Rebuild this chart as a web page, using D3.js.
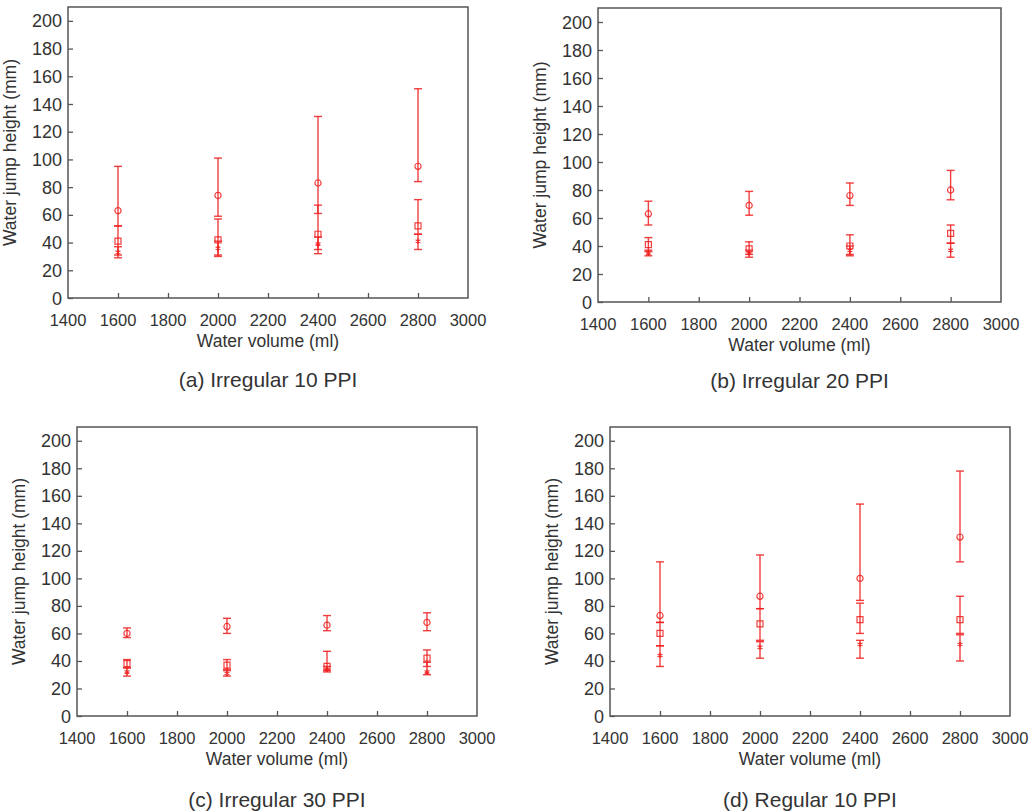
<!DOCTYPE html>
<html>
<head>
<meta charset="utf-8">
<script src="https://cdn.jsdelivr.net/npm/d3@7"></script>
<style>
  body { margin: 0; background: #fff; }
  text { font-family: "Liberation Sans", Arial, sans-serif; fill: #333; }
</style>
</head>
<body>
<div id="chart-area"></div>
<script>
// water volume (ml) for every group
const volumes = [1600, 2000, 2400, 2800];
const xTicks = [1400, 1600, 1800, 2000, 2200, 2400, 2600, 2800, 3000];
const yTicks = [0, 20, 40, 60, 80, 100, 120, 140, 160, 180, 200];

// (a) Irregular 10 PPI
const aCircle = [63, 74, 83, 95], aCircleLow = [52, 59, 61, 84], aCircleHigh = [95, 101, 131, 151];
const aSquare = [41, 42, 46, 52], aSquareLow = [31, 31, 35, 46], aSquareHigh = [52, 57, 67, 71];
const aStar = [33, 36, 39, 41], aStarLow = [29, 30, 32, 35], aStarHigh = [37, 41, 44, 46];

// (b) Irregular 20 PPI
const bCircle = [63, 69, 76, 80], bCircleLow = [55, 62, 69, 73], bCircleHigh = [72, 79, 85, 94];
const bSquare = [41, 38, 40, 49], bSquareLow = [36, 34, 34, 42], bSquareHigh = [46, 43, 48, 55];
const bStar = [35, 35, 37, 37], bStarLow = [33, 32, 33, 32], bStarHigh = [37, 37, 40, 42];

// (c) Irregular 30 PPI
const cCircle = [60, 65, 66, 68], cCircleLow = [57, 60, 62, 62], cCircleHigh = [64, 71, 73, 75];
const cSquare = [38, 37, 36, 42], cSquareLow = [35, 33, 33, 36], cSquareHigh = [41, 41, 47, 48];
const cStar = [32, 31, 34, 32], cStarLow = [29, 29, 32, 30], cStarHigh = [35, 34, 36, 39];

// (d) Regular 10 PPI
const dCircle = [73, 87, 100, 130], dCircleLow = [68, 78, 84, 112], dCircleHigh = [112, 117, 154, 178];
const dSquare = [60, 67, 70, 70], dSquareLow = [51, 55, 60, 60], dSquareHigh = [68, 78, 82, 87];
const dStar = [44, 50, 52, 52], dStarLow = [36, 42, 42, 40], dStarHigh = [51, 54, 55, 59];

const captions = ['(a) Irregular 10 PPI', '(b) Irregular 20 PPI', '(c) Irregular 30 PPI', '(d) Regular 10 PPI'];

const series = (mean, low, high, shape) => volumes.map((v, i) => ({ v, mean: mean[i], low: low[i], high: high[i], shape }));

const panels = [
  { left: 68, top: 7, right: 468, bottom: 298, caption: captions[0], capY: 380,
    data: [series(aCircle, aCircleLow, aCircleHigh, 'circle'), series(aSquare, aSquareLow, aSquareHigh, 'square'), series(aStar, aStarLow, aStarHigh, 'star')] },
  { left: 598, top: 8, right: 1001, bottom: 302, caption: captions[1], capY: 381,
    data: [series(bCircle, bCircleLow, bCircleHigh, 'circle'), series(bSquare, bSquareLow, bSquareHigh, 'square'), series(bStar, bStarLow, bStarHigh, 'star')] },
  { left: 77, top: 427, right: 477, bottom: 716, caption: captions[2], capY: 800,
    data: [series(cCircle, cCircleLow, cCircleHigh, 'circle'), series(cSquare, cSquareLow, cSquareHigh, 'square'), series(cStar, cStarLow, cStarHigh, 'star')] },
  { left: 610, top: 427, right: 1010, bottom: 716, caption: captions[3], capY: 800,
    data: [series(dCircle, dCircleLow, dCircleHigh, 'circle'), series(dSquare, dSquareLow, dSquareHigh, 'square'), series(dStar, dStarLow, dStarHigh, 'star')] }
];

const red = '#f01e1e';
const axisColor = '#555';

const svg = d3.select('#chart-area').append('svg')
  .attr('width', 1035)
  .attr('height', 812);

const symbols = {
  circle: d3.symbol(d3.symbolCircle, 30),
  square: d3.symbol(d3.symbolSquare, 36),
  star: d3.symbol(d3.symbolAsterisk, 22)
};

panels.forEach(p => {
  const x = d3.scaleLinear().domain([1400, 3000]).range([p.left, p.right]);
  const y = d3.scaleLinear().domain([0, 210]).range([p.bottom, p.top]);
  const g = svg.append('g');

  // ticks pointing into the plot
  g.append('g')
    .attr('transform', `translate(0, ${p.bottom})`)
    .call(d3.axisTop(x).tickValues(xTicks.slice(1, -1)).tickSize(5).tickFormat(''))
    .call(a => a.select('.domain').remove())
    .selectAll('line').attr('stroke', axisColor).attr('stroke-width', 1.3);

  g.append('g')
    .attr('transform', `translate(${p.left}, 0)`)
    .call(d3.axisRight(y).tickValues(yTicks).tickSize(5).tickFormat(''))
    .call(a => a.select('.domain').remove())
    .selectAll('line').attr('stroke', axisColor).attr('stroke-width', 1.3);

  // tick labels
  g.selectAll('.xl').data(xTicks).enter().append('text')
    .attr('x', d => x(d))
    .attr('y', p.bottom + 28)
    .attr('text-anchor', 'middle')
    .style('font-size', '16.5px')
    .text(d => d);

  g.selectAll('.yl').data(yTicks).enter().append('text')
    .attr('x', p.left - 6)
    .attr('y', d => y(d) + 6.5)
    .attr('text-anchor', 'end')
    .style('font-size', '18px')
    .text(d => d);

  // frame
  g.append('rect')
    .attr('x', p.left).attr('y', p.top)
    .attr('width', p.right - p.left).attr('height', p.bottom - p.top)
    .attr('fill', 'none').attr('stroke', axisColor).attr('stroke-width', 1.5);

  // axis titles
  g.append('text')
    .attr('x', (p.left + p.right) / 2)
    .attr('y', p.bottom + 49)
    .attr('text-anchor', 'middle')
    .style('font-size', '17.5px')
    .text('Water volume (ml)');

  g.append('text')
    .attr('transform', `translate(${p.left - 52}, ${(p.top + p.bottom) / 2}) rotate(-90)`)
    .attr('text-anchor', 'middle')
    .style('font-size', '17.5px')
    .text('Water jump height (mm)');

  g.append('text')
    .attr('x', (p.left + p.right) / 2)
    .attr('y', p.capY + 7)
    .attr('text-anchor', 'middle')
    .style('font-size', '21px')
    .text(p.caption);

  // error bars and markers
  p.data.forEach(s => {
    const sg = g.append('g').attr('stroke', red).attr('stroke-opacity', 0.85).attr('fill', 'none').attr('stroke-width', 1.4);
    sg.selectAll('.bar').data(s).enter().append('line')
      .attr('x1', d => x(d.v)).attr('x2', d => x(d.v))
      .attr('y1', d => y(d.low)).attr('y2', d => y(d.high));
    sg.selectAll('.capl').data(s).enter().append('line')
      .attr('x1', d => x(d.v) - 4).attr('x2', d => x(d.v) + 4)
      .attr('y1', d => y(d.low)).attr('y2', d => y(d.low));
    sg.selectAll('.caph').data(s).enter().append('line')
      .attr('x1', d => x(d.v) - 4).attr('x2', d => x(d.v) + 4)
      .attr('y1', d => y(d.high)).attr('y2', d => y(d.high));
    sg.selectAll('.mk').data(s).enter().append('path')
      .attr('transform', d => `translate(${x(d.v)}, ${y(d.mean)})`)
      .attr('d', d => symbols[d.shape]())
      .attr('fill', 'none')
      .attr('stroke-width', 1.2);
  });
});
</script>
</body>
</html>
